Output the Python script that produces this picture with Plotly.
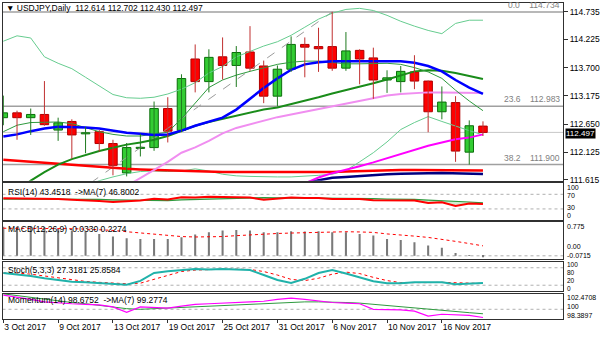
import plotly.graph_objects as go

# ---------------- data ----------------
dates = ["3 Oct 2017","4 Oct 2017","5 Oct 2017","6 Oct 2017","9 Oct 2017","10 Oct 2017","11 Oct 2017",
         "12 Oct 2017","13 Oct 2017","16 Oct 2017","17 Oct 2017","18 Oct 2017","19 Oct 2017","20 Oct 2017",
         "23 Oct 2017","24 Oct 2017","25 Oct 2017","26 Oct 2017","27 Oct 2017","30 Oct 2017","31 Oct 2017",
         "1 Nov 2017","2 Nov 2017","3 Nov 2017","6 Nov 2017","7 Nov 2017","8 Nov 2017","9 Nov 2017",
         "10 Nov 2017","13 Nov 2017","14 Nov 2017","15 Nov 2017","16 Nov 2017","17 Nov 2017","20 Nov 2017","21 Nov 2017"]

opens  = [112.77,112.86,112.77,112.83,112.54,112.70,112.47,112.51,112.29,111.745,112.20,112.215,112.94,112.535,
          113.86,113.44,113.90,113.74,113.99,113.73,113.17,113.67,114.13,114.09,114.09,113.69,114.02,113.88,
          113.47,113.44,113.62,113.45,112.88,113.05,112.13,112.614]
highs  = [113.18,112.90,112.94,113.45,112.77,112.74,112.60,112.54,112.36,112.30,112.47,113.07,113.15,113.576,
          114.13,114.04,114.26,114.10,114.47,113.83,113.74,114.28,114.26,114.44,114.734,114.36,114.04,114.07,
          113.65,113.73,113.93,113.46,113.35,113.17,112.72,112.702]
lows   = [112.63,112.36,112.45,112.62,112.34,112.01,112.11,112.14,111.70,111.68,112.05,112.155,112.31,112.50,
          113.24,113.24,113.48,113.34,113.64,113.04,112.98,113.62,113.52,113.62,113.64,113.64,113.39,113.12,
          113.23,113.24,113.30,112.50,112.74,111.95,111.90,112.430]
closes = [112.86,112.77,112.83,112.64,112.675,112.45,112.49,112.29,111.885,112.215,112.22,112.94,112.52,113.497,
          113.44,113.89,113.74,113.98,113.69,113.17,113.67,114.13,114.08,114.05,113.69,114.01,113.86,113.47,
          113.51,113.63,113.45,112.88,113.06,112.15,112.62,112.497]

ma_blue = [112.42,112.46,112.52,112.57,112.60,112.60,112.59,112.57,112.53,112.49,112.47,112.45,112.46,112.53,
           112.62,112.70,112.77,112.92,113.12,113.32,113.50,113.66,113.76,113.80,113.82,113.82,113.82,113.82,
           113.82,113.82,113.79,113.73,113.63,113.47,113.33,113.21]
ma_dgreen = [None,111.42,111.60,111.76,111.90,112.00,112.08,112.15,112.21,112.27,112.31,112.36,112.43,112.53,
             112.62,112.69,112.75,112.80,112.87,112.92,112.96,113.02,113.09,113.15,113.22,113.28,113.34,113.41,
             113.48,113.56,113.63,113.65,113.64,113.60,113.54,113.49]
ma_green = [112.51,112.63,112.68,112.69,112.69,112.66,112.58,112.51,112.46,112.43,112.43,112.46,112.50,112.75,
            113.05,113.33,113.47,113.56,113.63,113.70,113.76,113.80,113.82,113.82,113.80,113.77,113.77,113.78,
            113.78,113.76,113.70,113.62,113.50,113.28,113.08,112.90]
bb_upper = [114.19,114.29,114.25,113.90,113.78,113.68,113.52,113.36,113.20,113.14,113.13,113.15,113.21,113.30,
            113.42,113.60,113.72,113.90,114.00,114.10,114.18,114.30,114.45,114.60,114.71,114.78,114.80,114.76,
            114.67,114.56,114.47,114.39,114.33,114.52,114.58,114.58]
bb_lower = [None,None,None,None,None,None,111.50,111.60,111.67,111.73,111.77,111.78,111.77,111.78,
            111.82,111.78,111.72,111.69,111.68,111.67,111.67,111.67,111.68,111.70,111.72,111.79,111.95,112.12,
            112.32,112.55,112.68,112.79,112.70,112.61,112.53,112.45]
ma_violet = [None,None,None,None,None,None,None,None,None,111.50,111.65,111.79,111.95,112.12,
             112.22,112.34,112.48,112.58,112.65,112.72,112.78,112.83,112.88,112.93,112.98,113.04,113.09,113.14,
             113.18,113.21,113.23,113.24,113.24,113.24,113.23,113.23]
ma_magenta = [None]*22 + [111.55,111.66,111.74,111.80,111.87,111.94,112.02,112.09,112.17,112.25,112.31,112.37,112.40,112.46]
ma_navy = [None]*22 + [111.56,111.61,111.655,111.67,111.69,111.71,111.72,111.73,111.74,111.74,111.745,111.74,111.735,111.725]
ma_red = [111.99,111.97,111.95,111.93,111.92,111.90,111.88,111.86,111.84,111.82,111.81,111.80,111.79,111.78,
          111.77,111.77,111.76,111.76,111.76,111.76,111.75,111.75,111.75,111.76,111.76,111.77,111.78,111.79,
          111.79,111.80,111.80,111.80,111.80,111.79,111.79,111.79]

fib_levels = [114.734, 112.983, 111.900]
fib_names = ["0.0", "23.6", "38.2"]
fib_trend_x = [-17.2, 24]
fib_trend_y = [107.315, 114.734]
last_price = 112.497
price_ticks = [114.735, 114.225, 113.700, 113.175, 112.650, 112.125, 111.615]

rsi = [59,59,59,58,57,55,54,52,49,51,53,58,56,62,61,63,62,63,61,55,58,61,60,60,57,58,57,54,54,55,53,46,48,38,45,43.45]
rsi_ma = [57,57,58,58,58,57,57,56,55,54,53,53,53,55,56,58,59,61,62,61,60,60,60,60,59,59,59,58,57,57,56,54,53,50,49,46.8]

macd = [0.666,0.666,0.666,0.65,0.612,0.576,0.553,0.499,0.44,0.402,0.386,0.386,0.386,0.424,0.485,0.537,0.576,0.589,
        0.576,0.537,0.537,0.56,0.553,0.56,0.537,0.537,0.499,0.463,0.386,0.363,0.311,0.237,0.183,0.063,0.012,-0.033]
macd_signal = [0.63,0.63,0.63,0.63,0.63,0.62,0.61,0.60,0.58,0.55,0.52,0.49,0.46,0.44,0.43,0.43,0.44,0.46,
               0.48,0.50,0.51,0.52,0.53,0.54,0.545,0.55,0.545,0.535,0.50,0.48,0.45,0.42,0.38,0.33,0.28,0.2274]

stoch = [62,58,52,44,37,32,30,28,24,22,35,62,68,72,76,74,76,74,72,55,38,28,42,62,72,60,46,34,27,27,30,31,30,23,26,27.32]
stoch_sig = [62,62,58,52,45,38,33,30,27,25,27,40,55,67,72,74,75,75,74,67,55,40,36,44,58,65,60,47,36,29,28,29,30,28,26,25.86]

mom = [102.3,102.0,101.6,101.2,101.0,100.9,100.8,100.7,100.4,99.5,100.4,100.3,100.2,100.5,100.8,100.9,101.0,101.0,
       101.1,101.3,101.6,101.8,101.6,101.3,101.1,101.0,100.9,100.0,100.0,99.9,99.7,98.9,99.2,99.1,99.0,98.6752]
mom_ma = [102.5,102.2,101.9,101.6,101.4,101.1,100.9,100.6,100.3,100.1,100.0,100.1,100.2,100.3,100.5,100.6,100.7,100.8,
          100.8,100.9,101.0,101.1,101.2,101.2,101.2,101.1,101.0,100.8,100.6,100.4,100.2,99.95,99.8,99.6,99.45,99.2774]

# ---------------- figure ----------------
W, H = 600, 343
FONT = "Liberation Sans, Arial, sans-serif"
idx = list(range(len(dates)))

def py(top, bottom):
    return [1 - bottom / H, 1 - top / H]

fig = go.Figure()

def line(y, color, width, axis="y", dash="solid", **kw):
    fig.add_trace(go.Scatter(x=idx, y=y, mode="lines", line=dict(color=color, width=width, dash=dash),
                             xaxis="x" if axis == "y" else "x" + axis[1:], yaxis=axis,
                             hoverinfo="skip", showlegend=False, connectgaps=False, **kw))

# Fibonacci trend (dashed)
fig.add_trace(go.Scatter(x=fib_trend_x, y=fib_trend_y, mode="lines",
                         line=dict(color="#9a9a9a", width=1, dash="dash"), showlegend=False, hoverinfo="skip"))

# moving averages / bands
line(bb_upper, "#66cc8f", 1)
line(bb_lower, "#66cc8f", 1)
line(ma_red, "#ff0000", 2.5)
line(ma_navy, "#000080", 2.5)
line(ma_violet, "#f08ef0", 2)
line(ma_magenta, "#ff00ff", 2)
line(ma_dgreen, "#1a8c1a", 2)
line(ma_green, "#2e9a3e", 1)
line(ma_blue, "#0000ff", 2.5)

# candles: wicks
up = [c >= o for o, c in zip(opens, closes)]
for is_up, col in [(True, "#1f7a1f"), (False, "#c03030")]:
    wx, wy = [], []
    for i in idx:
        if up[i] == is_up:
            wx += [i, i, None]
            wy += [lows[i], highs[i], None]
    fig.add_trace(go.Scatter(x=wx, y=wy, mode="lines", line=dict(color=col, width=1),
                             showlegend=False, hoverinfo="skip"))
# candles: bodies
body_base = [min(o, c) for o, c in zip(opens, closes)]
body_h = [max(abs(c - o), 0.012) for o, c in zip(opens, closes)]
fig.add_trace(go.Bar(x=idx, y=body_h, base=body_base, width=0.62,
                     marker=dict(color=["#33cc33" if u else "#ff0000" for u in up],
                                 line=dict(color=["#0b6e0b" if u else "#b00000" for u in up], width=1)),
                     showlegend=False, hoverinfo="skip"))

# RSI (light band between RSI and its MA)
line(rsi_ma, "#2e9a3e", 1.2, "y2")
line(rsi, "#ff0000", 2, "y2", fill="tonexty", fillcolor="rgba(120,200,120,0.35)")
# MACD
fig.add_trace(go.Bar(x=idx, y=macd, width=0.15, marker=dict(color="#7a7a7a", line=dict(width=0)),
                     xaxis="x3", yaxis="y3", showlegend=False, hoverinfo="skip"))
line(macd_signal, "#ff0000", 1, "y3", "dot")
# Stochastic
line(stoch_sig, "#ff0000", 1, "y4", "dot")
line(stoch, "#20b2aa", 2, "y4")
# Momentum
line(mom_ma, "#2e9a3e", 1, "y5")
line(mom, "#ff00ff", 1.2, "y5")

shapes = []
for lv in fib_levels:
    shapes.append(dict(type="line", xref="x domain", yref="y", x0=0, x1=1, y0=lv, y1=lv,
                       line=dict(color="#a0a0a0", width=1.5), layer="below"))
shapes.append(dict(type="line", xref="x domain", yref="y", x0=0, x1=1, y0=last_price, y1=last_price,
                   line=dict(color="#c8c8c8", width=1), layer="below"))
for ax, lv in [("y2", 70), ("y2", 30), ("y3", 0), ("y4", 80), ("y4", 20), ("y5", 100)]:
    xa = "x" + ax[1:]
    shapes.append(dict(type="line", xref=xa + " domain", yref=ax, x0=0, x1=1, y0=lv, y1=lv,
                       line=dict(color="#b0b0b0", width=1, dash="dot"), layer="below"))

ann = []
def text(x, y, s, xref="paper", yref="paper", xanchor="left", yanchor="middle", color="#000000", size=8.5, **kw):
    ann.append(dict(x=x, y=y, xref=xref, yref=yref, text=s, showarrow=False, xanchor=xanchor, yanchor=yanchor,
                    font=dict(family=FONT, size=size, color=color), **kw))

text(4 / W, 1 - 8 / H, "▼ USDJPY,Daily  112.614 112.702 112.430 112.497")
for lv, nm in zip(fib_levels, fib_names):
    text(562 / W, lv, nm + "    " + f"{lv:.3f}", yref="y", xanchor="right", yanchor="bottom", color="#808080")
text(565 / W, last_price, "112.497", yref="y", bgcolor="#000000", color="#ffffff", borderpad=0, size=8, yshift=-1.5)
text(6 / W, 1 - 194 / H, "RSI(14) 43.4518  ->MA(7) 46.8002")
text(6 / W, 1 - 232 / H, "MACD(12,26,9) -0.0330 0.2274")
text(6 / W, 1 - 273 / H, "Stoch(5,3,3) 27.3181 25.8584")
text(6 / W, 1 - 304 / H, "Momentum(14) 98.6752  ->MA(7) 99.2774")

# right-hand scale labels of the indicator panes (pixel row of each label centre, font size)
pane_labels = [("100", 189.5, 7), ("70", 198.0, 7), ("30", 210.0, 7), ("0", 218.5, 7),
               ("0.775", 229.5, 7), ("0.00", 249.5, 7), ("-0.0715", 258.5, 7),
               ("100", 268.0, 6.5), ("80", 276.0, 6.5), ("20", 284.0, 6.5), ("0", 292.0, 6.5),
               ("102.4708", 301.5, 7), ("100", 310.5, 7), ("98.3897", 319.5, 7)]
for s, yy, fs in pane_labels:
    text(566 / W, 1 - yy / H, s, size=fs, borderpad=0)

XD = [2.5 / W, 563 / W]
XR = [-0.06, 40.84]
axcommon = dict(showgrid=False, zeroline=False, showline=True, mirror=True, linecolor="#303030", linewidth=1)
yfont = dict(family=FONT, size=8.5, color="#000000")

layout = dict(
    width=W, height=H, margin=dict(l=0, r=0, t=0, b=0),
    paper_bgcolor="white", plot_bgcolor="white", barmode="overlay", showlegend=False,
    shapes=shapes, annotations=ann,
    xaxis=dict(domain=XD, range=XR, showticklabels=False, ticks="", anchor="y", **axcommon),
    yaxis=dict(domain=py(3, 183), range=[111.597, 114.90], side="right", anchor="x",
               tickvals=price_ticks, ticktext=[f"{v:.3f}" for v in price_ticks],
               ticks="outside", ticklen=4, tickcolor="#303030", tickfont=yfont, **axcommon),
)
sub = {
    2: (py(185.5, 222.5), [0, 100]),
    3: (py(224.5, 262), [-0.0715, 0.775]),
    4: (py(265, 294.5), [0, 100]),
    5: (py(297.5, 323), [98.3897, 102.4708]),
}
for k, (dom, rng) in sub.items():
    xa = dict(domain=XD, range=XR, matches="x", anchor="y%d" % k, showticklabels=False, ticks="", **axcommon)
    if k == 5:
        xa.update(showticklabels=True, tickvals=idx[::4], ticktext=dates[::4], ticks="outside", ticklen=3,
                  tickcolor="#303030", ticklabelposition="outside right", tickangle=0,
                  tickfont=dict(family=FONT, size=8.5, color="#000000"))
    layout["xaxis%d" % k] = xa
    layout["yaxis%d" % k] = dict(domain=dom, range=rng, side="right", anchor="x%d" % k,
                                 showticklabels=False, ticks="", **axcommon)

fig.update_layout(**layout)
fig.write_html("out.html")
